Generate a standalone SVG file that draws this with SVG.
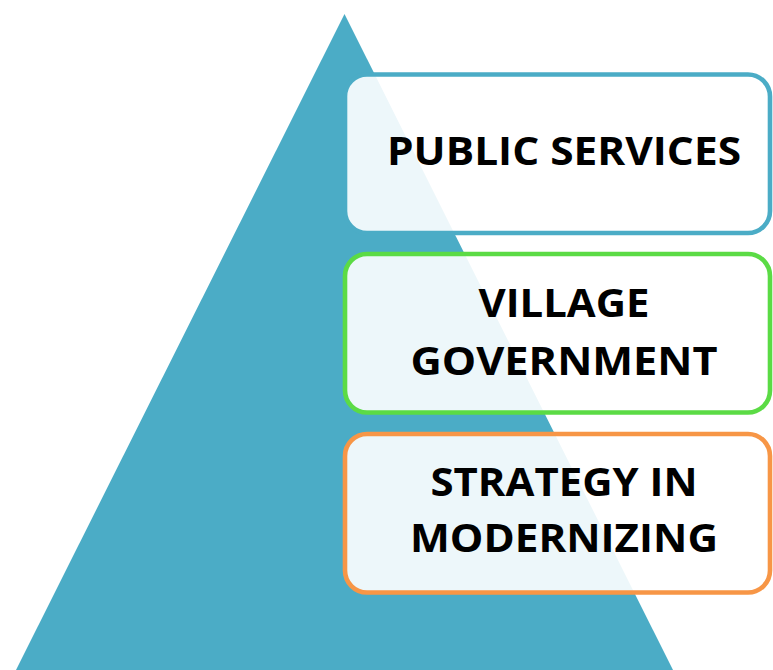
<svg xmlns="http://www.w3.org/2000/svg" width="773" height="670" viewBox="0 0 773 670">
<style>
.box{fill:#ffffff;fill-opacity:0.9;stroke-width:4.6}
.lbl{font-family:"Open Sans","Liberation Sans",sans-serif;font-weight:bold;font-size:39px;fill:#000000;text-anchor:middle}
</style>
<rect width="773" height="670" fill="#ffffff"/>
<g id="pyramid">
<polygon points="344.5,14 16,670 673,670" fill="#4BACC6"/>
</g>
<g id="connectors"></g>
<g id="public-services">
<rect class="box" x="345" y="74.5" width="425" height="158.5" rx="22" stroke="#4BACC6"/>
<text class="lbl" x="564" y="165" textLength="354" lengthAdjust="spacingAndGlyphs">PUBLIC SERVICES</text>
</g>
<g id="village-government">
<rect class="box" x="345" y="254" width="425" height="158.5" rx="22" stroke="#5BDB45"/>
<text class="lbl" x="564" y="317" textLength="171" lengthAdjust="spacingAndGlyphs">VILLAGE</text>
<text class="lbl" x="564" y="375" textLength="307" lengthAdjust="spacingAndGlyphs">GOVERNMENT</text>
</g>
<g id="strategy">
<rect class="box" x="345" y="434" width="425" height="158.5" rx="22" stroke="#F79646"/>
<text class="lbl" x="564" y="496" textLength="267" lengthAdjust="spacingAndGlyphs">STRATEGY IN</text>
<text class="lbl" x="564" y="552" textLength="308" lengthAdjust="spacingAndGlyphs">MODERNIZING</text>
</g>
</svg>
